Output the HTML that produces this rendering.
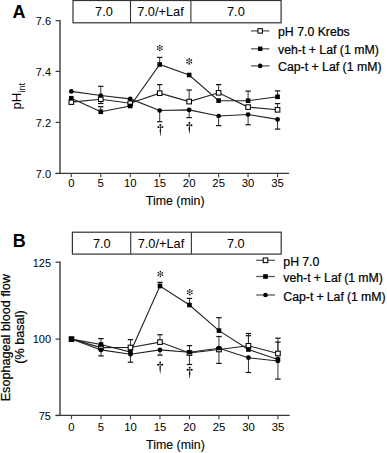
<!DOCTYPE html>
<html><head><meta charset="utf-8"><style>
html,body{margin:0;padding:0;background:#fff;}
body{width:387px;height:453px;overflow:hidden;}
svg{display:block;font-family:"Liberation Sans",sans-serif;}

</style></head><body>
<svg width="387" height="453" viewBox="0 0 387 453">
<rect width="387" height="453" fill="#fff"/>
<text x="12.6" y="18.2" font-size="18" text-anchor="start" font-weight="bold" >A</text>
<rect x="73.0" y="0.5" width="208.1" height="22.3" fill="none" stroke="#333" stroke-width="1.2"/>
<line x1="130.5" y1="0.5" x2="130.5" y2="22.8" stroke="#333" stroke-width="1.1"/>
<line x1="190.9" y1="0.5" x2="190.9" y2="22.8" stroke="#333" stroke-width="1.1"/>
<text x="104" y="16.3" font-size="12.8" text-anchor="middle" font-weight="normal" >7.0</text>
<text x="160.5" y="16.3" font-size="12.8" text-anchor="middle" font-weight="normal" >7.0/+Laf</text>
<text x="235.9" y="16.3" font-size="12.8" text-anchor="middle" font-weight="normal" >7.0</text>
<line x1="60" y1="20.1" x2="60" y2="173.4" stroke="#666" stroke-width="1.8"/>
<line x1="55.6" y1="173.4" x2="289.1" y2="173.4" stroke="#383838" stroke-width="1.25"/>
<line x1="55.6" y1="20.7" x2="60" y2="20.7" stroke="#383838" stroke-width="1.2"/>
<text x="51" y="25.0" font-size="11" text-anchor="end" font-weight="normal" >7.6</text>
<line x1="55.6" y1="71.4" x2="60" y2="71.4" stroke="#383838" stroke-width="1.2"/>
<text x="51" y="75.7" font-size="11" text-anchor="end" font-weight="normal" >7.4</text>
<line x1="55.6" y1="122.4" x2="60" y2="122.4" stroke="#383838" stroke-width="1.2"/>
<text x="51" y="126.7" font-size="11" text-anchor="end" font-weight="normal" >7.2</text>
<line x1="55.6" y1="173.5" x2="60" y2="173.5" stroke="#383838" stroke-width="1.2"/>
<text x="51" y="177.8" font-size="11" text-anchor="end" font-weight="normal" >7.0</text>
<line x1="71.30" y1="173.4" x2="71.30" y2="177.3" stroke="#444" stroke-width="1.15"/>
<text transform="translate(71.30,186.9) scale(1.07,1)" font-size="10.6" text-anchor="middle">0</text>
<line x1="100.77" y1="173.4" x2="100.77" y2="177.3" stroke="#444" stroke-width="1.15"/>
<text transform="translate(100.77,186.9) scale(1.07,1)" font-size="10.6" text-anchor="middle">5</text>
<line x1="130.23" y1="173.4" x2="130.23" y2="177.3" stroke="#444" stroke-width="1.15"/>
<text transform="translate(130.23,186.9) scale(1.07,1)" font-size="10.6" text-anchor="middle">10</text>
<line x1="159.69" y1="173.4" x2="159.69" y2="177.3" stroke="#444" stroke-width="1.15"/>
<text transform="translate(159.69,186.9) scale(1.07,1)" font-size="10.6" text-anchor="middle">15</text>
<line x1="189.16" y1="173.4" x2="189.16" y2="177.3" stroke="#444" stroke-width="1.15"/>
<text transform="translate(189.16,186.9) scale(1.07,1)" font-size="10.6" text-anchor="middle">20</text>
<line x1="218.62" y1="173.4" x2="218.62" y2="177.3" stroke="#444" stroke-width="1.15"/>
<text transform="translate(218.62,186.9) scale(1.07,1)" font-size="10.6" text-anchor="middle">25</text>
<line x1="248.09" y1="173.4" x2="248.09" y2="177.3" stroke="#444" stroke-width="1.15"/>
<text transform="translate(248.09,186.9) scale(1.07,1)" font-size="10.6" text-anchor="middle">30</text>
<line x1="277.56" y1="173.4" x2="277.56" y2="177.3" stroke="#444" stroke-width="1.15"/>
<text transform="translate(277.56,186.9) scale(1.07,1)" font-size="10.6" text-anchor="middle">35</text>
<text x="175.2" y="204.9" font-size="12.4" text-anchor="middle" font-weight="normal" stroke="#000" stroke-width="0.1" >Time (min)</text>
<text transform="translate(20.9,109.6) rotate(-90) scale(1,1.04)" font-size="13.1">pH<tspan font-size="9.4" dy="3.9">int</tspan></text>
<line x1="100.77" y1="99.20" x2="100.77" y2="103.50" stroke="#333" stroke-width="1"/>
<line x1="98.06" y1="103.50" x2="103.47" y2="103.50" stroke="#111" stroke-width="1.2"/>
<line x1="159.69" y1="93.20" x2="159.69" y2="84.60" stroke="#333" stroke-width="1"/>
<line x1="157.00" y1="84.60" x2="162.39" y2="84.60" stroke="#111" stroke-width="1.2"/>
<line x1="189.16" y1="101.60" x2="189.16" y2="90.00" stroke="#333" stroke-width="1"/>
<line x1="186.46" y1="90.00" x2="191.86" y2="90.00" stroke="#111" stroke-width="1.2"/>
<line x1="218.62" y1="92.80" x2="218.62" y2="84.60" stroke="#333" stroke-width="1"/>
<line x1="215.93" y1="84.60" x2="221.32" y2="84.60" stroke="#111" stroke-width="1.2"/>
<line x1="277.56" y1="109.80" x2="277.56" y2="103.60" stroke="#333" stroke-width="1"/>
<line x1="274.86" y1="103.60" x2="280.25" y2="103.60" stroke="#111" stroke-width="1.2"/>
<line x1="100.77" y1="111.80" x2="100.77" y2="106.70" stroke="#333" stroke-width="1"/>
<line x1="98.06" y1="106.70" x2="103.47" y2="106.70" stroke="#111" stroke-width="1.2"/>
<line x1="159.69" y1="64.50" x2="159.69" y2="57.40" stroke="#333" stroke-width="1"/>
<line x1="157.00" y1="57.40" x2="162.39" y2="57.40" stroke="#111" stroke-width="1.2"/>
<line x1="248.09" y1="100.70" x2="248.09" y2="91.10" stroke="#333" stroke-width="1"/>
<line x1="245.39" y1="91.10" x2="250.79" y2="91.10" stroke="#111" stroke-width="1.2"/>
<line x1="277.56" y1="96.80" x2="277.56" y2="90.90" stroke="#333" stroke-width="1"/>
<line x1="274.86" y1="90.90" x2="280.25" y2="90.90" stroke="#111" stroke-width="1.2"/>
<line x1="100.77" y1="95.50" x2="100.77" y2="86.30" stroke="#333" stroke-width="1"/>
<line x1="98.06" y1="86.30" x2="103.47" y2="86.30" stroke="#111" stroke-width="1.2"/>
<line x1="159.69" y1="110.50" x2="159.69" y2="121.70" stroke="#333" stroke-width="1"/>
<line x1="157.00" y1="121.70" x2="162.39" y2="121.70" stroke="#111" stroke-width="1.2"/>
<line x1="189.16" y1="109.90" x2="189.16" y2="117.60" stroke="#333" stroke-width="1"/>
<line x1="186.46" y1="117.60" x2="191.86" y2="117.60" stroke="#111" stroke-width="1.2"/>
<line x1="218.62" y1="116.00" x2="218.62" y2="125.60" stroke="#333" stroke-width="1"/>
<line x1="215.93" y1="125.60" x2="221.32" y2="125.60" stroke="#111" stroke-width="1.2"/>
<line x1="248.09" y1="114.50" x2="248.09" y2="124.80" stroke="#333" stroke-width="1"/>
<line x1="245.39" y1="124.80" x2="250.79" y2="124.80" stroke="#111" stroke-width="1.2"/>
<line x1="277.56" y1="119.40" x2="277.56" y2="129.10" stroke="#333" stroke-width="1"/>
<line x1="274.86" y1="129.10" x2="280.25" y2="129.10" stroke="#111" stroke-width="1.2"/>
<polyline points="71.30,102.10 100.77,99.20 130.23,103.20 159.69,93.20 189.16,101.60 218.62,92.80 248.09,107.10 277.56,109.80" fill="none" stroke="#222" stroke-width="1.1"/>
<polyline points="71.30,98.20 100.77,111.80 130.23,106.00 159.69,64.50 189.16,75.00 218.62,100.60 248.09,100.70 277.56,96.80" fill="none" stroke="#222" stroke-width="1.1"/>
<polyline points="71.30,91.40 100.77,95.50 130.23,98.90 159.69,110.50 189.16,109.90 218.62,116.00 248.09,114.50 277.56,119.40" fill="none" stroke="#222" stroke-width="1.1"/>
<rect x="69.00" y="99.80" width="4.60" height="4.60" fill="#fff" stroke="#000" stroke-width="1.05"/>
<rect x="98.47" y="96.90" width="4.60" height="4.60" fill="#fff" stroke="#000" stroke-width="1.05"/>
<rect x="127.93" y="100.90" width="4.60" height="4.60" fill="#fff" stroke="#000" stroke-width="1.05"/>
<rect x="157.39" y="90.90" width="4.60" height="4.60" fill="#fff" stroke="#000" stroke-width="1.05"/>
<rect x="186.86" y="99.30" width="4.60" height="4.60" fill="#fff" stroke="#000" stroke-width="1.05"/>
<rect x="216.32" y="90.50" width="4.60" height="4.60" fill="#fff" stroke="#000" stroke-width="1.05"/>
<rect x="245.79" y="104.80" width="4.60" height="4.60" fill="#fff" stroke="#000" stroke-width="1.05"/>
<rect x="275.25" y="107.50" width="4.60" height="4.60" fill="#fff" stroke="#000" stroke-width="1.05"/>
<rect x="69.00" y="95.90" width="4.60" height="4.60" fill="#000"/>
<rect x="98.47" y="109.50" width="4.60" height="4.60" fill="#000"/>
<rect x="127.93" y="103.70" width="4.60" height="4.60" fill="#000"/>
<rect x="157.39" y="62.20" width="4.60" height="4.60" fill="#000"/>
<rect x="186.86" y="72.70" width="4.60" height="4.60" fill="#000"/>
<rect x="216.32" y="98.30" width="4.60" height="4.60" fill="#000"/>
<rect x="245.79" y="98.40" width="4.60" height="4.60" fill="#000"/>
<rect x="275.25" y="94.50" width="4.60" height="4.60" fill="#000"/>
<circle cx="71.30" cy="91.40" r="2.35" fill="#000"/>
<circle cx="100.77" cy="95.50" r="2.35" fill="#000"/>
<circle cx="130.23" cy="98.90" r="2.35" fill="#000"/>
<circle cx="159.69" cy="110.50" r="2.35" fill="#000"/>
<circle cx="189.16" cy="109.90" r="2.35" fill="#000"/>
<circle cx="218.62" cy="116.00" r="2.35" fill="#000"/>
<circle cx="248.09" cy="114.50" r="2.35" fill="#000"/>
<circle cx="277.56" cy="119.40" r="2.35" fill="#000"/>
<line x1="159.79" y1="45.00" x2="159.79" y2="51.00" stroke="#555" stroke-width="0.75"/>
<line x1="157.20" y1="46.50" x2="162.39" y2="49.50" stroke="#555" stroke-width="0.75"/>
<line x1="162.39" y1="46.50" x2="157.20" y2="49.50" stroke="#555" stroke-width="0.75"/>
<circle cx="161.96" cy="49.25" r="0.78" fill="#111"/>
<circle cx="159.79" cy="50.50" r="0.78" fill="#111"/>
<circle cx="157.63" cy="49.25" r="0.78" fill="#111"/>
<circle cx="157.63" cy="46.75" r="0.78" fill="#111"/>
<circle cx="159.79" cy="45.50" r="0.78" fill="#111"/>
<circle cx="161.96" cy="46.75" r="0.78" fill="#111"/>
<line x1="189.26" y1="58.40" x2="189.26" y2="64.40" stroke="#555" stroke-width="0.75"/>
<line x1="186.66" y1="59.90" x2="191.86" y2="62.90" stroke="#555" stroke-width="0.75"/>
<line x1="191.86" y1="59.90" x2="186.66" y2="62.90" stroke="#555" stroke-width="0.75"/>
<circle cx="191.43" cy="62.65" r="0.78" fill="#111"/>
<circle cx="189.26" cy="63.90" r="0.78" fill="#111"/>
<circle cx="187.09" cy="62.65" r="0.78" fill="#111"/>
<circle cx="187.09" cy="60.15" r="0.78" fill="#111"/>
<circle cx="189.26" cy="58.90" r="0.78" fill="#111"/>
<circle cx="191.43" cy="60.15" r="0.78" fill="#111"/>
<circle cx="160.39" cy="124.90" r="0.95" fill="#000"/>
<line x1="160.39" y1="124.90" x2="160.39" y2="127.10" stroke="#333" stroke-width="0.8"/>
<line x1="158.29" y1="127.10" x2="162.49" y2="127.10" stroke="#333" stroke-width="0.8"/>
<circle cx="158.29" cy="127.10" r="0.95" fill="#000"/>
<circle cx="162.49" cy="127.10" r="0.95" fill="#000"/>
<path d="M159.99 127.10 L159.99 128.50 Q159.39 130.30 159.84 132.10 L160.27 135.90 L160.51 135.90 L160.94 132.10 Q161.39 130.30 160.79 128.50 L160.79 127.10Z" fill="#111"/>
<circle cx="189.36" cy="123.00" r="0.95" fill="#000"/>
<line x1="189.36" y1="123.00" x2="189.36" y2="125.20" stroke="#333" stroke-width="0.8"/>
<line x1="187.26" y1="125.20" x2="191.46" y2="125.20" stroke="#333" stroke-width="0.8"/>
<circle cx="187.26" cy="125.20" r="0.95" fill="#000"/>
<circle cx="191.46" cy="125.20" r="0.95" fill="#000"/>
<path d="M188.96 125.20 L188.96 126.60 Q188.36 128.40 188.81 130.20 L189.24 133.70 L189.48 133.70 L189.91 130.20 Q190.36 128.40 189.76 126.60 L189.76 125.20Z" fill="#111"/>
<line x1="251" y1="30.9" x2="269.5" y2="30.9" stroke="#555" stroke-width="1.25"/>
<rect x="258.00" y="28.70" width="4.40" height="4.40" fill="#fff" stroke="#000" stroke-width="1.05"/>
<text x="278" y="35.6" font-size="12.3" text-anchor="start" font-weight="normal" stroke="#000" stroke-width="0.22" >pH 7.0 Krebs</text>
<line x1="251" y1="48.8" x2="269.5" y2="48.8" stroke="#555" stroke-width="1.25"/>
<rect x="258.00" y="46.60" width="4.40" height="4.40" fill="#000"/>
<text x="278" y="53.5" font-size="12.3" text-anchor="start" font-weight="normal" stroke="#000" stroke-width="0.22" >veh-t + Laf (1 mM)</text>
<line x1="251" y1="65.9" x2="269.5" y2="65.9" stroke="#555" stroke-width="1.25"/>
<circle cx="260.20" cy="65.90" r="2.30" fill="#000"/>
<text x="278" y="70.60000000000001" font-size="12.3" text-anchor="start" font-weight="normal" stroke="#000" stroke-width="0.22" >Cap-t + Laf (1 mM)</text>
<text x="12.7" y="247.4" font-size="18" text-anchor="start" font-weight="bold" >B</text>
<rect x="72.4" y="232.2" width="208.8" height="21.9" fill="none" stroke="#333" stroke-width="1.2"/>
<line x1="130.7" y1="232.2" x2="130.7" y2="254.1" stroke="#333" stroke-width="1.1"/>
<line x1="191.4" y1="232.2" x2="191.4" y2="254.1" stroke="#333" stroke-width="1.1"/>
<text x="101.8" y="247.7" font-size="12.8" text-anchor="middle" font-weight="normal" >7.0</text>
<text x="161" y="247.7" font-size="12.8" text-anchor="middle" font-weight="normal" >7.0/+Laf</text>
<text x="235.8" y="247.7" font-size="12.8" text-anchor="middle" font-weight="normal" >7.0</text>
<line x1="60" y1="261.6" x2="60" y2="415.4" stroke="#666" stroke-width="1.8"/>
<line x1="55.6" y1="415.4" x2="289.7" y2="415.4" stroke="#383838" stroke-width="1.25"/>
<line x1="55.6" y1="262.2" x2="60" y2="262.2" stroke="#383838" stroke-width="1.2"/>
<text x="51" y="266.5" font-size="11" text-anchor="end" font-weight="normal" >125</text>
<line x1="55.6" y1="339.1" x2="60" y2="339.1" stroke="#383838" stroke-width="1.2"/>
<text x="51" y="343.40000000000003" font-size="11" text-anchor="end" font-weight="normal" >100</text>
<line x1="55.6" y1="415.5" x2="60" y2="415.5" stroke="#383838" stroke-width="1.2"/>
<text x="51" y="419.8" font-size="11" text-anchor="end" font-weight="normal" >75</text>
<line x1="71.50" y1="415.4" x2="71.50" y2="419.3" stroke="#444" stroke-width="1.15"/>
<text transform="translate(71.50,431.2) scale(1.07,1)" font-size="10.6" text-anchor="middle">0</text>
<line x1="100.99" y1="415.4" x2="100.99" y2="419.3" stroke="#444" stroke-width="1.15"/>
<text transform="translate(100.99,431.2) scale(1.07,1)" font-size="10.6" text-anchor="middle">5</text>
<line x1="130.48" y1="415.4" x2="130.48" y2="419.3" stroke="#444" stroke-width="1.15"/>
<text transform="translate(130.48,431.2) scale(1.07,1)" font-size="10.6" text-anchor="middle">10</text>
<line x1="159.97" y1="415.4" x2="159.97" y2="419.3" stroke="#444" stroke-width="1.15"/>
<text transform="translate(159.97,431.2) scale(1.07,1)" font-size="10.6" text-anchor="middle">15</text>
<line x1="189.46" y1="415.4" x2="189.46" y2="419.3" stroke="#444" stroke-width="1.15"/>
<text transform="translate(189.46,431.2) scale(1.07,1)" font-size="10.6" text-anchor="middle">20</text>
<line x1="218.95" y1="415.4" x2="218.95" y2="419.3" stroke="#444" stroke-width="1.15"/>
<text transform="translate(218.95,431.2) scale(1.07,1)" font-size="10.6" text-anchor="middle">25</text>
<line x1="248.44" y1="415.4" x2="248.44" y2="419.3" stroke="#444" stroke-width="1.15"/>
<text transform="translate(248.44,431.2) scale(1.07,1)" font-size="10.6" text-anchor="middle">30</text>
<line x1="277.93" y1="415.4" x2="277.93" y2="419.3" stroke="#444" stroke-width="1.15"/>
<text transform="translate(277.93,431.2) scale(1.07,1)" font-size="10.6" text-anchor="middle">35</text>
<text x="175.4" y="449.3" font-size="12.4" text-anchor="middle" font-weight="normal" stroke="#000" stroke-width="0.1" >Time (min)</text>
<text transform="translate(9.8,337.75) rotate(-90)" font-size="12.65" text-anchor="middle" stroke="#000" stroke-width="0.2">Esophageal blood flow</text>
<text transform="translate(24.1,337.05) rotate(-90)" font-size="12.65" text-anchor="middle" stroke="#000" stroke-width="0.2">(% basal)</text>
<line x1="130.48" y1="347.50" x2="130.48" y2="339.70" stroke="#333" stroke-width="1"/>
<line x1="127.78" y1="339.70" x2="133.18" y2="339.70" stroke="#111" stroke-width="1.2"/>
<line x1="159.97" y1="342.10" x2="159.97" y2="334.70" stroke="#333" stroke-width="1"/>
<line x1="157.27" y1="334.70" x2="162.67" y2="334.70" stroke="#111" stroke-width="1.2"/>
<line x1="189.46" y1="353.00" x2="189.46" y2="345.60" stroke="#333" stroke-width="1"/>
<line x1="186.76" y1="345.60" x2="192.16" y2="345.60" stroke="#111" stroke-width="1.2"/>
<line x1="218.95" y1="349.50" x2="218.95" y2="336.50" stroke="#333" stroke-width="1"/>
<line x1="216.25" y1="336.50" x2="221.65" y2="336.50" stroke="#111" stroke-width="1.2"/>
<line x1="248.44" y1="345.80" x2="248.44" y2="333.50" stroke="#333" stroke-width="1"/>
<line x1="245.74" y1="333.50" x2="251.14" y2="333.50" stroke="#111" stroke-width="1.2"/>
<line x1="277.93" y1="353.50" x2="277.93" y2="338.20" stroke="#333" stroke-width="1"/>
<line x1="275.23" y1="338.20" x2="280.63" y2="338.20" stroke="#111" stroke-width="1.2"/>
<line x1="100.99" y1="344.50" x2="100.99" y2="338.60" stroke="#333" stroke-width="1"/>
<line x1="98.29" y1="338.60" x2="103.69" y2="338.60" stroke="#111" stroke-width="1.2"/>
<line x1="159.97" y1="286.00" x2="159.97" y2="282.40" stroke="#333" stroke-width="1"/>
<line x1="157.27" y1="282.40" x2="162.67" y2="282.40" stroke="#111" stroke-width="1.2"/>
<line x1="189.46" y1="305.00" x2="189.46" y2="298.40" stroke="#333" stroke-width="1"/>
<line x1="186.76" y1="298.40" x2="192.16" y2="298.40" stroke="#111" stroke-width="1.2"/>
<line x1="218.95" y1="330.60" x2="218.95" y2="317.70" stroke="#333" stroke-width="1"/>
<line x1="216.25" y1="317.70" x2="221.65" y2="317.70" stroke="#111" stroke-width="1.2"/>
<line x1="248.44" y1="349.50" x2="248.44" y2="335.70" stroke="#333" stroke-width="1"/>
<line x1="245.74" y1="335.70" x2="251.14" y2="335.70" stroke="#111" stroke-width="1.2"/>
<line x1="277.93" y1="359.50" x2="277.93" y2="342.10" stroke="#333" stroke-width="1"/>
<line x1="275.23" y1="342.10" x2="280.63" y2="342.10" stroke="#111" stroke-width="1.2"/>
<line x1="100.99" y1="349.90" x2="100.99" y2="355.90" stroke="#333" stroke-width="1"/>
<line x1="98.29" y1="355.90" x2="103.69" y2="355.90" stroke="#111" stroke-width="1.2"/>
<line x1="130.48" y1="354.30" x2="130.48" y2="362.20" stroke="#333" stroke-width="1"/>
<line x1="127.78" y1="362.20" x2="133.18" y2="362.20" stroke="#111" stroke-width="1.2"/>
<line x1="159.97" y1="349.90" x2="159.97" y2="355.10" stroke="#333" stroke-width="1"/>
<line x1="157.27" y1="355.10" x2="162.67" y2="355.10" stroke="#111" stroke-width="1.2"/>
<line x1="189.46" y1="352.20" x2="189.46" y2="364.50" stroke="#333" stroke-width="1"/>
<line x1="186.76" y1="364.50" x2="192.16" y2="364.50" stroke="#111" stroke-width="1.2"/>
<line x1="218.95" y1="348.20" x2="218.95" y2="363.40" stroke="#333" stroke-width="1"/>
<line x1="216.25" y1="363.40" x2="221.65" y2="363.40" stroke="#111" stroke-width="1.2"/>
<line x1="248.44" y1="357.70" x2="248.44" y2="372.50" stroke="#333" stroke-width="1"/>
<line x1="245.74" y1="372.50" x2="251.14" y2="372.50" stroke="#111" stroke-width="1.2"/>
<line x1="277.93" y1="361.00" x2="277.93" y2="379.10" stroke="#333" stroke-width="1"/>
<line x1="275.23" y1="379.10" x2="280.63" y2="379.10" stroke="#111" stroke-width="1.2"/>
<polyline points="71.50,339.10 100.99,347.60 130.48,347.50 159.97,342.10 189.46,353.00 218.95,349.50 248.44,345.80 277.93,353.50" fill="none" stroke="#222" stroke-width="1.1"/>
<polyline points="71.50,339.10 100.99,344.50 130.48,352.00 159.97,286.00 189.46,305.00 218.95,330.60 248.44,349.50 277.93,359.50" fill="none" stroke="#222" stroke-width="1.1"/>
<polyline points="71.50,339.10 100.99,349.90 130.48,354.30 159.97,349.90 189.46,352.20 218.95,348.20 248.44,357.70 277.93,361.00" fill="none" stroke="#222" stroke-width="1.1"/>
<rect x="69.20" y="336.80" width="4.60" height="4.60" fill="#fff" stroke="#000" stroke-width="1.05"/>
<rect x="98.69" y="345.30" width="4.60" height="4.60" fill="#fff" stroke="#000" stroke-width="1.05"/>
<rect x="128.18" y="345.20" width="4.60" height="4.60" fill="#fff" stroke="#000" stroke-width="1.05"/>
<rect x="157.67" y="339.80" width="4.60" height="4.60" fill="#fff" stroke="#000" stroke-width="1.05"/>
<rect x="187.16" y="350.70" width="4.60" height="4.60" fill="#fff" stroke="#000" stroke-width="1.05"/>
<rect x="216.65" y="347.20" width="4.60" height="4.60" fill="#fff" stroke="#000" stroke-width="1.05"/>
<rect x="246.14" y="343.50" width="4.60" height="4.60" fill="#fff" stroke="#000" stroke-width="1.05"/>
<rect x="275.63" y="351.20" width="4.60" height="4.60" fill="#fff" stroke="#000" stroke-width="1.05"/>
<rect x="69.20" y="336.80" width="4.60" height="4.60" fill="#000"/>
<rect x="98.69" y="342.20" width="4.60" height="4.60" fill="#000"/>
<rect x="128.18" y="349.70" width="4.60" height="4.60" fill="#000"/>
<rect x="157.67" y="283.70" width="4.60" height="4.60" fill="#000"/>
<rect x="187.16" y="302.70" width="4.60" height="4.60" fill="#000"/>
<rect x="216.65" y="328.30" width="4.60" height="4.60" fill="#000"/>
<rect x="246.14" y="347.20" width="4.60" height="4.60" fill="#000"/>
<rect x="275.63" y="357.20" width="4.60" height="4.60" fill="#000"/>
<circle cx="71.50" cy="339.10" r="2.35" fill="#000"/>
<circle cx="100.99" cy="349.90" r="2.35" fill="#000"/>
<circle cx="130.48" cy="354.30" r="2.35" fill="#000"/>
<circle cx="159.97" cy="349.90" r="2.35" fill="#000"/>
<circle cx="189.46" cy="352.20" r="2.35" fill="#000"/>
<circle cx="218.95" cy="348.20" r="2.35" fill="#000"/>
<circle cx="248.44" cy="357.70" r="2.35" fill="#000"/>
<circle cx="277.93" cy="361.00" r="2.35" fill="#000"/>
<line x1="160.37" y1="271.00" x2="160.37" y2="277.00" stroke="#555" stroke-width="0.75"/>
<line x1="157.77" y1="272.50" x2="162.97" y2="275.50" stroke="#555" stroke-width="0.75"/>
<line x1="162.97" y1="272.50" x2="157.77" y2="275.50" stroke="#555" stroke-width="0.75"/>
<circle cx="162.54" cy="275.25" r="0.78" fill="#111"/>
<circle cx="160.37" cy="276.50" r="0.78" fill="#111"/>
<circle cx="158.20" cy="275.25" r="0.78" fill="#111"/>
<circle cx="158.20" cy="272.75" r="0.78" fill="#111"/>
<circle cx="160.37" cy="271.50" r="0.78" fill="#111"/>
<circle cx="162.54" cy="272.75" r="0.78" fill="#111"/>
<line x1="189.76" y1="289.20" x2="189.76" y2="295.20" stroke="#555" stroke-width="0.75"/>
<line x1="187.16" y1="290.70" x2="192.36" y2="293.70" stroke="#555" stroke-width="0.75"/>
<line x1="192.36" y1="290.70" x2="187.16" y2="293.70" stroke="#555" stroke-width="0.75"/>
<circle cx="191.93" cy="293.45" r="0.78" fill="#111"/>
<circle cx="189.76" cy="294.70" r="0.78" fill="#111"/>
<circle cx="187.59" cy="293.45" r="0.78" fill="#111"/>
<circle cx="187.59" cy="290.95" r="0.78" fill="#111"/>
<circle cx="189.76" cy="289.70" r="0.78" fill="#111"/>
<circle cx="191.93" cy="290.95" r="0.78" fill="#111"/>
<circle cx="160.17" cy="362.50" r="0.95" fill="#000"/>
<line x1="160.17" y1="362.50" x2="160.17" y2="364.70" stroke="#333" stroke-width="0.8"/>
<line x1="158.07" y1="364.70" x2="162.27" y2="364.70" stroke="#333" stroke-width="0.8"/>
<circle cx="158.07" cy="364.70" r="0.95" fill="#000"/>
<circle cx="162.27" cy="364.70" r="0.95" fill="#000"/>
<path d="M159.77 364.70 L159.77 366.10 Q159.17 367.90 159.62 369.70 L160.05 373.70 L160.29 373.70 L160.72 369.70 Q161.17 367.90 160.57 366.10 L160.57 364.70Z" fill="#111"/>
<circle cx="189.66" cy="367.60" r="0.95" fill="#000"/>
<line x1="189.66" y1="367.60" x2="189.66" y2="369.80" stroke="#333" stroke-width="0.8"/>
<line x1="187.56" y1="369.80" x2="191.76" y2="369.80" stroke="#333" stroke-width="0.8"/>
<circle cx="187.56" cy="369.80" r="0.95" fill="#000"/>
<circle cx="191.76" cy="369.80" r="0.95" fill="#000"/>
<path d="M189.26 369.80 L189.26 371.20 Q188.66 373.00 189.11 374.80 L189.54 378.50 L189.78 378.50 L190.21 374.80 Q190.66 373.00 190.06 371.20 L190.06 369.80Z" fill="#111"/>
<line x1="256.2" y1="260.3" x2="274.9" y2="260.3" stroke="#555" stroke-width="1.25"/>
<rect x="263.20" y="258.00" width="4.60" height="4.60" fill="#fff" stroke="#000" stroke-width="1.05"/>
<text x="283.3" y="265.90000000000003" font-size="12.3" text-anchor="start" font-weight="normal" stroke="#000" stroke-width="0.22" word-spacing="-0.3">pH 7.0</text>
<line x1="256.2" y1="276.5" x2="274.9" y2="276.5" stroke="#555" stroke-width="1.25"/>
<rect x="263.20" y="274.20" width="4.60" height="4.60" fill="#000"/>
<text x="283.3" y="282.1" font-size="12.3" text-anchor="start" font-weight="normal" stroke="#000" stroke-width="0.22" word-spacing="-0.3">veh-t + Laf (1 mM)</text>
<line x1="256.2" y1="295.0" x2="274.9" y2="295.0" stroke="#555" stroke-width="1.25"/>
<circle cx="265.50" cy="295.00" r="2.30" fill="#000"/>
<text x="283.3" y="300.6" font-size="12.3" text-anchor="start" font-weight="normal" stroke="#000" stroke-width="0.22" word-spacing="-0.3">Cap-t + Laf (1 mM)</text>
</svg>
</body></html>
